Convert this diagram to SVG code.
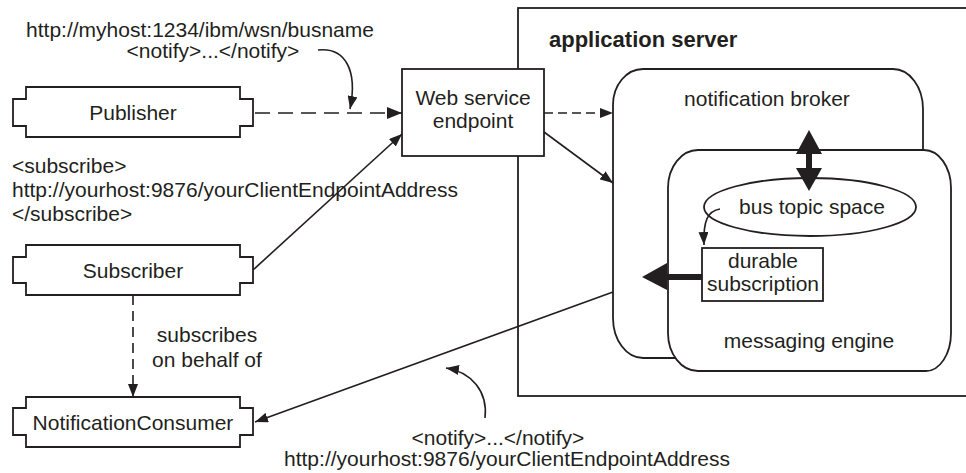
<svg xmlns="http://www.w3.org/2000/svg" width="966" height="473" viewBox="0 0 966 473">
<style>
text{font-family:"Liberation Sans",Arial,sans-serif;font-size:21px;fill:#231f20}
.c{text-anchor:middle}
.b{font-weight:bold;font-size:22px}
.shape{fill:#fff;stroke:#231f20;stroke-width:1.8}
.ln{fill:none;stroke:#231f20;stroke-width:1.6}
.fill{fill:#231f20;stroke:none}
</style>
<defs>
<marker id="arr" markerUnits="userSpaceOnUse" markerWidth="13" markerHeight="10" refX="13" refY="5" orient="auto" viewBox="0 0 13 10">
<path d="M0,0 L13,5 L0,10 Z" fill="#231f20"/>
</marker>
<marker id="arrL" markerUnits="userSpaceOnUse" markerWidth="15" markerHeight="12" refX="15" refY="6" orient="auto" viewBox="0 0 15 12">
<path d="M0,0 L15,6 L0,12 Z" fill="#231f20"/>
</marker>
</defs>
<g id="app-server">
<rect class="shape" x="518" y="8" width="460" height="388"/>
<text class="b" x="549" y="47">application server</text>
</g>
<g id="notification-broker">
<path class="shape" d="M643,69 H893 A30,40 0 0 1 923,109 V318 A30,40 0 0 1 893,358 H643 A30,40 0 0 1 613,318 V105 A30,36 0 0 1 643,69 Z"/>
<text class="c" x="767" y="106">notification broker</text>
</g>
<g id="messaging-engine">
<path class="shape" d="M698,150 H924 A27,38 0 0 1 951,188 V333 A25,38 0 0 1 926,371 H698 A30,38 0 0 1 668,333 V188 A30,38 0 0 1 698,150 Z"/>
<text class="c" x="809" y="348">messaging engine</text>
</g>
<g id="bus-topic-space">
<ellipse class="shape" cx="810" cy="207" rx="106" ry="29"/>
<text class="c" x="812" y="214">bus topic space</text>
</g>
<g id="durable-subscription">
<rect class="shape" x="702" y="248" width="121" height="53"/>
<text class="c" x="763" y="268">durable</text>
<text class="c" x="763" y="291">subscription</text>
</g>
<g id="web-service-endpoint">
<rect class="shape" x="402" y="69" width="142" height="87"/>
<text class="c" x="473" y="105">Web service</text>
<text class="c" x="473" y="128">endpoint</text>
</g>
<g id="publisher">
<path class="shape" d="M26,87 H240 V99 H253 V126 H240 V137 H26 V126 H13 V99 H26 Z"/>
<text class="c" x="133" y="120">Publisher</text>
</g>
<g id="subscriber">
<path class="shape" d="M26,245 H240 V257 H253 V283 H240 V295 H26 V283 H13 V257 H26 Z"/>
<text class="c" x="133" y="278">Subscriber</text>
</g>
<g id="notification-consumer">
<path class="shape" d="M26,397 H240 V408 H253 V435 H240 V447 H26 V435 H13 V408 H26 Z"/>
<text class="c" x="133" y="430">NotificationConsumer</text>
</g>
<g id="connectors">
<line class="ln" x1="255" y1="113" x2="402" y2="113" stroke-width="3" stroke-dasharray="15 8" marker-end="url(#arrL)"/>
<path class="ln" d="M318,50 C345,47 358,70 350,109" marker-end="url(#arr)"/>
<line class="ln" x1="544" y1="113" x2="613" y2="113" stroke-dasharray="9 5" marker-end="url(#arr)"/>
<line class="ln" x1="544" y1="132" x2="613" y2="183" marker-end="url(#arr)"/>
<line class="ln" x1="253" y1="270" x2="402" y2="134" marker-end="url(#arr)"/>
<line class="ln" x1="133" y1="295" x2="133" y2="397" stroke-width="2" stroke-dasharray="10 6" marker-end="url(#arr)"/>
<line class="ln" x1="613" y1="292" x2="255" y2="422" marker-end="url(#arr)"/>
<path class="ln" d="M485,418 C488,392 472,372 446,368" marker-end="url(#arr)"/>
<path class="ln" d="M720,209 C708,211 703,220 704,245" marker-end="url(#arr)"/>
<line x1="809" y1="150" x2="809" y2="172" stroke="#231f20" stroke-width="6"/>
<path class="fill" d="M809,130 L822,154 L796,154 Z"/>
<path class="fill" d="M809,191 L822,168 L796,168 Z"/>
<line x1="664" y1="277" x2="702" y2="277" stroke="#231f20" stroke-width="6"/>
<path class="fill" d="M642,277 L667,263 L667,290 Z"/>
</g>
<g id="labels">
<text class="c" x="200" y="37">http://myhost:1234/ibm/wsn/busname</text>
<text class="c" x="213" y="58">&lt;notify&gt;...&lt;/notify&gt;</text>
<text x="12" y="173">&lt;subscribe&gt;</text>
<text x="12" y="197">http://yourhost:9876/yourClientEndpointAddress</text>
<text x="12" y="221">&lt;/subscribe&gt;</text>
<text class="c" x="207" y="342">subscribes</text>
<text class="c" x="207" y="367">on behalf of</text>
<text class="c" x="498" y="445">&lt;notify&gt;...&lt;/notify&gt;</text>
<text class="c" x="507" y="466">http://yourhost:9876/yourClientEndpointAddress</text>
</g>
</svg>
